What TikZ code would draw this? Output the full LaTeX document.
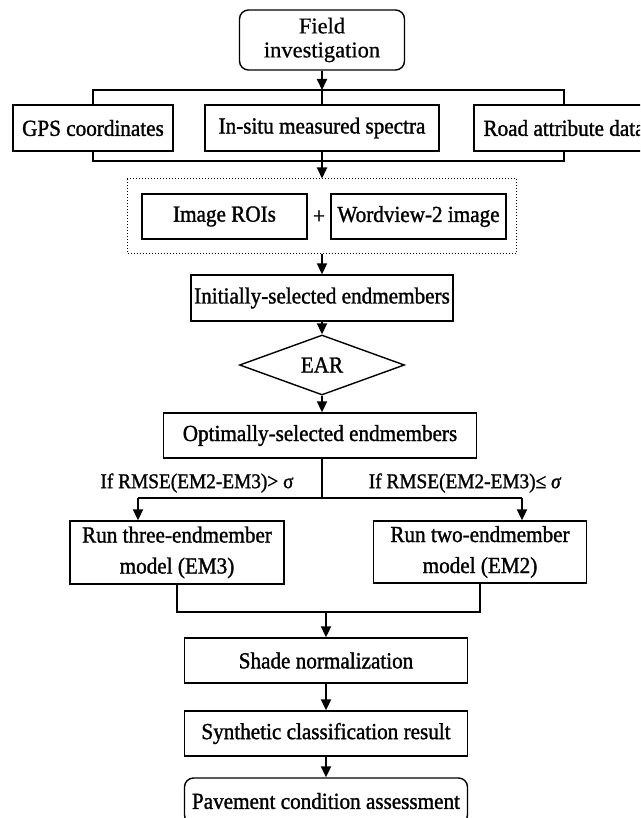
\documentclass[tikz,border=0pt]{standalone}
\usepackage{fontspec}
\setmainfont{Liberation Serif}[FakeStretch=0.92]
\newfontfamily\boxfont{Liberation Serif}[FakeStretch=0.92, FakeBold=1.3]
\newfontfamily\fieldfont{Liberation Serif}[FakeBold=0.6]
\usetikzlibrary{arrows.meta,shapes.geometric}
\begin{document}
\begin{tikzpicture}[x=1pt,y=-1pt,
  box/.style={draw, line width=1.4pt, inner sep=0pt, align=center,
    font=\boxfont\fontsize{23}{31}\selectfont},
  conn/.style={line width=2pt},
  arr/.style={line width=2pt, -{Triangle[width=10pt,length=11pt]}},
  lbl/.style={inner sep=0pt, font=\boxfont\fontsize{21}{24}\selectfont}]
\path[use as bounding box] (0,0) rectangle (640,818);
\clip (0,0) rectangle (640,818);

% top
\node[box, rounded corners=9pt, minimum width=165pt, minimum height=60pt,
  font=\fieldfont\fontsize{22.5}{24}\selectfont] (field) at (322,40) {Field\\investigation};

\node[box, minimum width=160pt, minimum height=46pt] (gps) at (93,128) {GPS coordinates};
\node[box, minimum width=234pt, minimum height=46pt] (insitu) at (322,128) {In-situ measured spectra};
\node[box, minimum width=180pt, minimum height=46pt] (road) at (564,128) {Road attribute data};

\coordinate (brT) at (322,90);
\coordinate (brB) at (322,161);
\draw[arr] (field.south) -- (brT);
\draw[conn] (gps.north) |- (brT) -| (road.north);
\draw[conn] (brT) -- (insitu.north);
\draw[conn] (gps.south) |- (brB) -| (road.south);

% dotted group
\node[draw, dotted, line width=1pt, minimum width=389pt, minimum height=74pt, inner sep=0pt] (grp) at (322,216) {};
\node[box, minimum width=165pt, minimum height=45pt] (roi) at (224.5,216.5) {Image ROIs};
\node[inner sep=0pt, font=\boxfont\fontsize{23}{28}\selectfont] (plus) at (319,217) {+};
\node[box, minimum width=175pt, minimum height=45pt] (wv) at (418.5,216.5) {Wordview-2 image};
\draw[arr] (insitu.south) -- (grp.north);

% middle
\node[box, minimum width=262pt, minimum height=46pt] (init) at (322,298) {Initially-selected endmembers};
\draw[arr] (grp.south) -- (init.north);

\node[draw, line width=1.4pt, diamond, aspect=2.75, minimum width=165pt, minimum height=60pt,
  inner sep=0pt, font=\boxfont\fontsize{23}{28}\selectfont] (ear) at (322,365) {EAR};
\draw[arr] (init.south) -- (ear.north);

\node[box, minimum width=313pt, minimum height=45pt] (opt) at (320,435.5) {Optimally-selected endmembers};
\draw[arr] (ear.south) -- (ear.south |- opt.north);

% split
\coordinate (sp) at (322,498);
\coordinate (spL) at (138,498);
\coordinate (spR) at (522,498);
\node[box, minimum width=214pt, minimum height=63pt] (em3) at (177,552.5) {Run three-endmember\\model (EM3)};
\node[box, minimum width=213pt, minimum height=62pt] (em2) at (480,552) {Run two-endmember\\model (EM2)};
\draw[conn] (sp |- opt.south) -- (sp);
\draw[conn] (spL) -- (spR);
\draw[arr] (spL) -- (spL |- em3.north);
\draw[arr] (spR) -- (spR |- em2.north);
\node[lbl] (l1) at (197,483) {If RMSE(EM2-EM3)> σ};
\node[lbl] (l2) at (465,483) {If RMSE(EM2-EM3)≤ \textit{σ}};

% merge
\coordinate (mg) at (326,612);
\node[box, minimum width=283pt, minimum height=45pt] (shade) at (326,660.5) {Shade normalization};
\node[box, minimum width=283pt, minimum height=45pt] (synth) at (326,733.5) {Synthetic classification result};
\node[box, rounded corners=9pt, minimum width=283pt, minimum height=46pt] (pave) at (326,801) {Pavement condition assessment};
\draw[conn] (em3.south) |- (mg) -| (em2.south);
\draw[arr] (mg) -- (shade.north);
\draw[arr] (shade.south) -- (synth.north);
\draw[arr] (synth.south) -- (pave.north);
\end{tikzpicture}
\end{document}
